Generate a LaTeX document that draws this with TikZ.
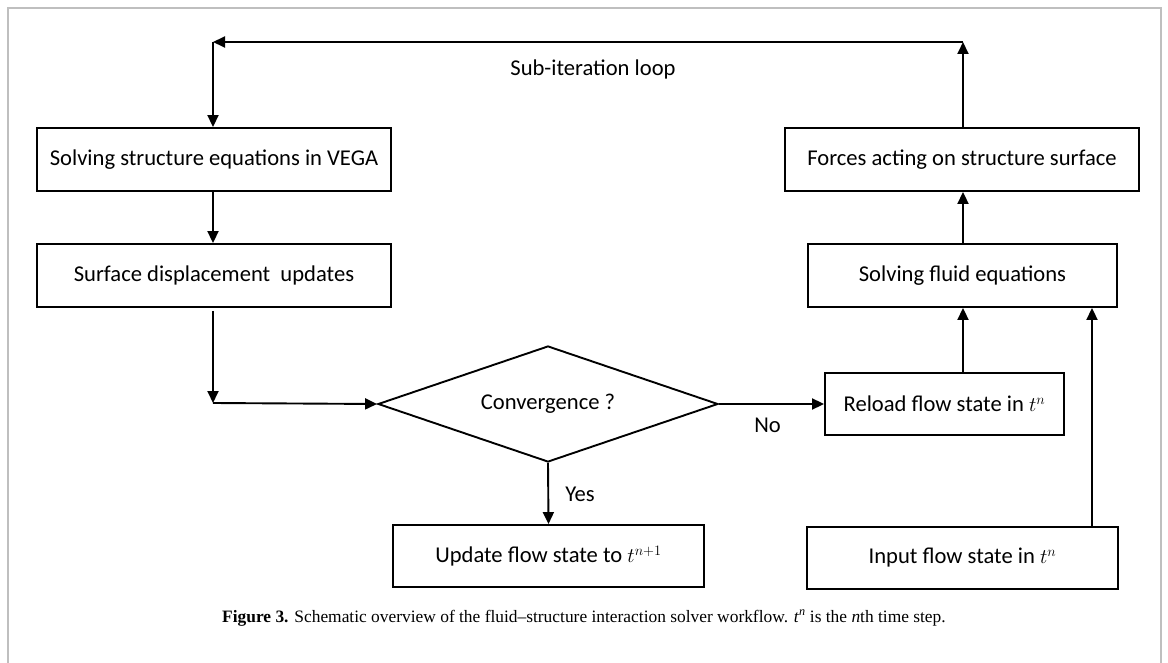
\documentclass[tikz,border=0pt]{standalone}
\usepackage{fontspec}
\setmainfont{Carlito}
\newfontfamily\capfont[Ligatures=TeX]{Liberation Serif}
\usetikzlibrary{shapes.geometric,arrows.meta}
\begin{document}
\begin{tikzpicture}[x=1pt,y=-1pt,
  box/.style={draw,line width=1.9pt,inner sep=0pt,font=\fontsize{22.6}{26}\selectfont},
  lbl/.style={font=\fontsize{22.6}{26}\selectfont,inner sep=0pt},
  arr/.style={line width=1.9pt,-{Triangle[length=12pt,width=11pt]}},
  ln/.style={line width=1.9pt}]
\useasboundingbox (0,0) rectangle (1168,663);
\draw[line width=1.5pt,color=black!25] (8,663) -- (8,8) -- (1161,8) -- (1161,663);
% boxes
\node[box,minimum width=354pt,minimum height=63pt] (vega) at (214,159.5) {Solving structure equations in VEGA};
\node[box,minimum width=354pt,minimum height=63pt] (surf) at (214,275.5) {Surface displacement\ \ updates};
\node[box,minimum width=354pt,minimum height=63pt] (forc) at (962,159.5) {Forces acting on structure surface};
\node[box,minimum width=309pt,minimum height=63pt] (fluid) at (962.5,275.5) {Solving fluid equations};
\node[box,minimum width=239pt,minimum height=62pt] (rel) at (944.5,404) {Reload flow state in $t^n$};
\node[box,minimum width=311pt,minimum height=62pt] (inp) at (962.5,558) {Input flow state in $t^n$};
\node[box,minimum width=311pt,minimum height=62pt] (upd) at (548.5,556) {Update flow state to $t^{n+1}$};
\node[draw,line width=1.9pt,diamond,aspect=2.93,minimum width=340pt,minimum height=116pt,inner sep=0pt] (conv) at (548,404) {};
\node[lbl] at (548,404) {Convergence ?};
% coordinates
\coordinate (tl) at (213,42);
\coordinate (tr) at (963,42);
\coordinate (cc) at (213,403);
% connectors
\draw[arr] (forc.north -| tr) -- (tr);
\draw[arr] (tr) -- (tl);
\draw[arr] (tl) -- (vega.north -| tl);
\draw[arr] (vega.south -| tl) -- (surf.north -| tl);
\draw[arr] ([yshift=-3pt]surf.south -| cc) -- (cc);
\draw[arr] (cc) -- (conv.west);
\draw[arr] (conv.east) -- (rel.west);
\draw[arr] (conv.south) -- (upd.north);
\draw[arr] (rel.north -| tr) -- (fluid.south -| tr);
\draw[arr] (fluid.north -| tr) -- (forc.south -| tr);
\coordinate (ix) at (1092,0);
\draw[arr] (inp.north -| ix) -- (fluid.south -| ix);
% labels
\node[lbl] (sub) at (593,69) {Sub-iteration loop};
\node[lbl] (no) at (767.5,425) {No};
\node[lbl] (yes) at (580,494) {Yes};
\node[inner sep=0pt,font=\capfont\fontsize{17.4}{20}\selectfont] (cap) at (584,618) {\textbf{Figure 3.} Schematic overview of the fluid–structure interaction solver workflow. \textit{t}\textsuperscript{\textit{n}} is the \textit{n}th time step.};
\end{tikzpicture}
\end{document}
